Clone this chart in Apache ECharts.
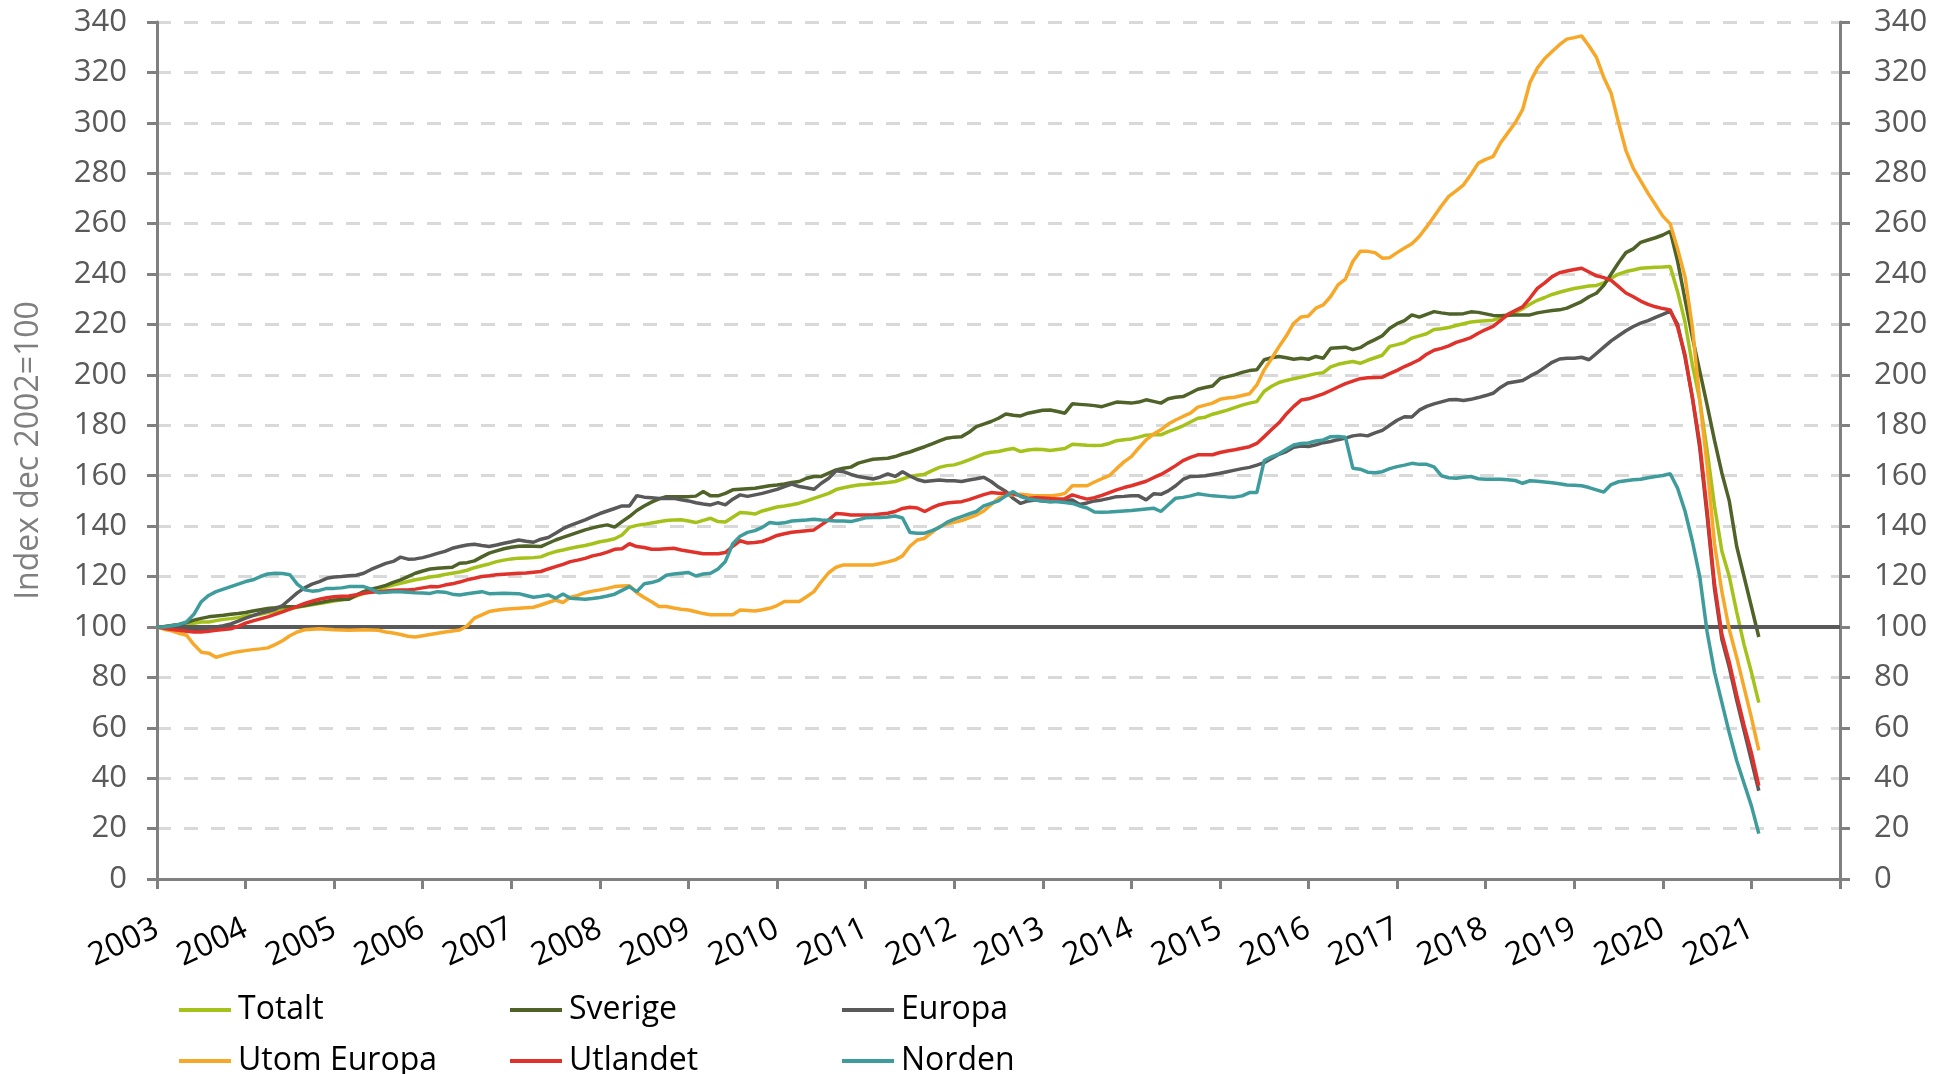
<!DOCTYPE html>
<html>
<head>
<meta charset="utf-8">
<script src="https://cdn.jsdelivr.net/npm/echarts@6/dist/echarts.min.js"></script>
<style>
  html, body, #main { width: 100%; height: 100%; margin: 0; background: #fff; }
</style>
</head>
<body>
<div id="main"></div>
<script>
// tick years (one tick every January, last tick has no label)
var years = [2003, 2004, 2005, 2006, 2007, 2008, 2009, 2010, 2011, 2012,
             2013, 2014, 2015, 2016, 2017, 2018, 2019, 2020, 2021, 2022];

// monthly index values, Jan 2003 .. Feb 2021 (dec 2002 = 100)
var totalt = [
  100, 100, 100.5, 101, 101, 101.5, 102, 102, 102.5, 103, 103.3, 103.7,
  104.3, 104.6, 105, 105.7, 106.2, 106.7, 107.2, 107.8, 108.3, 108.8, 109.3, 109.8,
  110.3, 110.8, 111.3, 112.2, 113.3, 114.3, 115, 115.8, 116.6, 117.3, 118, 118.7,
  119.2, 119.8, 120.2, 120.8, 121.3, 121.8, 122.5, 123.5, 124.3, 125, 125.9, 126.5,
  127, 127.3, 127.4, 127.5, 127.8, 129, 129.9, 130.5, 131.2, 131.8, 132.3, 133,
  133.8, 134.3, 135, 136.5, 139.5, 140.3, 140.7, 141.2, 141.7, 142.2, 142.4, 142.5,
  142, 141.4, 142.3, 143.1, 141.8, 141.6, 143.5, 145.4, 145.2, 144.8, 146, 146.8,
  147.6, 148, 148.5, 149.1, 150, 151, 152, 153, 154.5, 155.2, 155.8, 156.3,
  156.5, 156.8, 157, 157.3, 157.7, 158.7, 159.7, 160.2, 160.6, 162, 163.3, 164,
  164.3, 165.2, 166.3, 167.5, 168.7, 169.3, 169.6, 170.3, 170.8, 169.6, 170.2, 170.5,
  170.4, 170, 170.4, 170.8, 172.5, 172.3, 172.1, 172, 172.1, 172.8, 173.9, 174.3,
  174.6, 175.3, 176.1, 176.2, 176.2, 177.5, 178.6, 179.8, 181.3, 182.8, 183.2, 184.4,
  185.2, 186, 187, 188, 188.8, 189.4, 193.5, 195.5, 197, 197.8, 198.5, 199.1,
  199.8, 200.5, 200.9, 203.2, 204.2, 204.8, 205.3, 204.6, 205.8, 206.8, 207.8, 211.3,
  212, 212.8, 214.6, 215.5, 216.3, 218, 218.3, 218.8, 219.6, 220.3, 221, 221.3,
  221.5, 221.7, 222.5, 223.5, 224.8, 226.2, 228, 229.6, 230.7, 231.9, 232.8, 233.6,
  234.3, 234.8, 235.3, 235.5, 236.5, 238.3, 240, 241, 241.6, 242.3, 242.5, 242.7,
  242.8, 243, 233, 221, 204, 190, 170, 148, 130, 120, 106, 93,
  82, 70
];

var sverige = [
  100, 100.2, 100.6, 101, 101.7, 102.7, 103.4, 104, 104.3, 104.6, 105, 105.3,
  105.7, 106.3, 106.8, 107.3, 107.6, 108, 108, 108, 108.5, 109.1, 109.6, 110.2,
  110.7, 110.9, 111, 112.6, 114, 115, 115.7, 116.5, 117.7, 118.7, 120, 121.3,
  122.2, 123, 123.3, 123.5, 123.7, 125.3, 125.5, 126.2, 127.8, 129.3, 130.2, 131,
  131.6, 132, 132.1, 132, 131.9, 133.2, 134.5, 135.5, 136.5, 137.5, 138.5, 139.3,
  140, 140.5, 139.6, 141.8, 143.8, 146.2, 148, 149.5, 150.8, 151.7, 151.7, 151.7,
  151.7, 151.9, 153.7, 152, 152, 153, 154.4, 154.6, 154.8, 155, 155.5, 156,
  156.3, 156.7, 157.3, 157.7, 159, 159.7, 159.7, 161, 162.3, 163, 163.4, 165,
  165.8, 166.5, 166.7, 166.9, 167.6, 168.6, 169.4, 170.5, 171.5, 172.6, 173.8, 174.9,
  175.3, 175.5, 177.2, 179.5, 180.5, 181.5, 182.8, 184.5, 184, 183.7, 184.8, 185.4,
  186, 186.1, 185.5, 184.8, 188.5, 188.3, 188.1, 187.8, 187.4, 188.3, 189.2, 189,
  188.8, 189.2, 190.1, 189.5, 188.8, 190.5, 191.1, 191.4, 192.8, 194.3, 195, 195.6,
  198.5, 199.3, 200, 201, 201.7, 202, 206, 206.8, 207.3, 206.8, 206.2, 206.6,
  206.2, 207.3, 206.6, 210.6, 210.8, 211, 210, 210.8, 212.6, 214, 215.5, 218.5,
  220.3, 221.5, 223.8, 222.9, 224, 225.1, 224.6, 224.2, 224.2, 224.3, 225, 224.8,
  224.2, 223.6, 223.5, 223.7, 223.8, 223.8, 223.8, 224.6, 225.1, 225.5, 225.8, 226.5,
  227.8, 229.1, 231, 232.4, 235.5, 240, 244.5, 248.5, 250, 252.6, 253.5, 254.4,
  255.5, 257, 245, 230, 215, 201.5, 188, 174, 161, 150, 132, 120,
  108, 96
];

var europa = [
  100, 99.8, 99.5, 99.3, 99, 99, 99, 99.5, 100, 100.5, 101.2, 102.3,
  103.5, 104.5, 105.5, 106.2, 107, 108.5, 111, 113.5, 115.5, 117, 118, 119.3,
  119.8, 120, 120.3, 120.5, 121.3, 122.8, 124, 125.2, 126, 127.7, 126.9, 127,
  127.5, 128.3, 129.2, 130, 131.2, 131.9, 132.5, 132.8, 132.3, 131.9, 132.5, 133.2,
  133.8, 134.5, 134, 133.6, 134.8, 135.5, 137.2, 139, 140.3, 141.4, 142.5, 143.8,
  145, 146, 147, 148, 148, 152.1, 151.5, 151.3, 151, 151, 151, 150.5,
  150, 149.3, 148.8, 148.4, 149.3, 148.4, 150.7, 152.4, 151.8, 152.4, 153, 153.8,
  154.6, 155.7, 156.7, 155.7, 155.2, 154.6, 157, 159, 162, 161.6, 160.5, 159.7,
  159.2, 158.7, 159.5, 160.7, 159.7, 161.6, 159.9, 158.5, 157.7, 158, 158.3, 158,
  158, 157.7, 158.3, 158.8, 159.4, 157.7, 155.5, 153.7, 151, 149, 150, 150.4,
  150, 149.7, 150, 150.2, 150.4, 148.6, 149.2, 150, 150.4, 151, 151.7, 151.8,
  152, 152, 150.4, 152.8, 152.6, 154, 156, 158.5, 159.7, 159.8, 160, 160.5,
  161, 161.6, 162.2, 162.8, 163.3, 164.2, 165.2, 166.8, 168.5, 169.6, 171.3, 171.8,
  171.6, 172.3, 173.1, 173.6, 174.3, 174.9, 175.8, 176.2, 175.8, 177, 178, 180,
  182, 183.4, 183.3, 186, 187.5, 188.5, 189.3, 190.1, 190.2, 189.8, 190.3, 191,
  191.8, 192.7, 195, 196.8, 197.3, 197.8, 199.5, 201, 203, 205, 206.3, 206.6,
  206.6, 207, 206, 208.5, 211, 213.5, 215.5, 217.5, 219.2, 220.5, 221.5, 222.8,
  224, 225.3, 220, 207, 191, 171, 144, 115, 95, 84, 71, 59,
  47, 35
];

var utomEuropa = [
  100, 99, 98.5, 97.5, 96.7, 93, 90, 89.6, 88, 88.8, 89.6, 90.2,
  90.6, 91, 91.3, 91.7, 93, 94.5, 96.5, 98, 98.9, 99.1, 99.3, 99.1,
  98.9, 98.8, 98.7, 98.8, 98.9, 98.8, 98.7, 98, 97.6, 97, 96.3, 96,
  96.5, 97, 97.5, 98, 98.4, 98.8, 100.4, 103.5, 104.8, 106.1, 106.6, 107,
  107.2, 107.4, 107.6, 107.8, 108.7, 109.7, 110.7, 109.7, 111.8, 112.5, 113.6, 114.2,
  114.7, 115.3, 116, 116.2, 116.3, 113.6, 111.7, 110, 108.1, 108.1, 107.5, 107,
  106.7, 106, 105.3, 104.8, 104.8, 104.8, 104.8, 106.7, 106.5, 106.3, 106.8, 107.4,
  108.5, 110.1, 110.1, 110.1, 112, 114, 118, 121.5, 123.7, 124.6, 124.6, 124.6,
  124.6, 124.6, 125.2, 125.8, 126.6, 128.2, 132, 134.5, 135.2, 137.5, 139.8, 140.8,
  141.5, 142.2, 143.3, 144.4, 146, 148.5, 151, 152.4, 152.4, 152.6, 152.3, 152,
  152, 152, 152.3, 153, 156, 156, 156, 157.5, 158.8, 160, 162.8, 165.5,
  167.6, 171, 174.2, 176.5, 178.2, 180.5, 182.1, 183.5, 184.8, 187.2, 188, 188.8,
  190.3, 190.8, 191.1, 191.8, 192.5, 196, 202, 206.5, 211.2, 215.5, 220.5, 223,
  223.4, 226.5, 227.8, 231.1, 235.7, 238, 245, 249, 249, 248.5, 246.3, 246.5,
  248.5, 250.3, 252, 254.9, 258.7, 262.8, 267, 270.8, 273, 275.4, 279.5, 284,
  285.5, 286.6, 292, 296, 300, 305.2, 316, 321.7, 325.5, 328.3, 331, 333.2,
  333.8, 334.5, 330.5, 326, 318, 311.7, 300, 289, 281.9, 277, 272, 267.5,
  263, 259.9, 250, 239, 219, 190, 164, 133, 114, 99, 88, 76,
  64, 51
];

var utlandet = [
  100, 99.5, 99, 98.7, 98.3, 98, 98, 98.3, 98.7, 99, 99.3, 100.2,
  101.5, 102.4, 103.2, 104, 105, 106, 107.1, 108.2, 109.3, 110.2, 111, 111.6,
  112, 112.2, 112.3, 112.8, 113.4, 113.8, 114, 114.3, 114.6, 114.7, 114.7, 115,
  115.5, 116, 115.9, 116.6, 117.1, 117.8, 118.7, 119.3, 120, 120.3, 120.7, 120.9,
  121.1, 121.3, 121.4, 121.7, 122, 123, 123.9, 124.8, 125.9, 126.5, 127.2, 128.2,
  128.8, 129.7, 130.8, 131, 133, 131.9, 131.5, 130.8, 130.8, 131, 131.2, 130.5,
  130, 129.5, 129, 129, 129, 129.5, 132, 134.2, 133.3, 133.5, 133.9, 135,
  136.3, 137, 137.6, 137.9, 138.2, 138.5, 140.5, 142.5, 145, 144.8, 144.4, 144.4,
  144.4, 144.4, 144.8, 145.1, 145.8, 147, 147.5, 147.2, 145.8, 147.3, 148.5, 149.2,
  149.5, 149.7, 150.5, 151.5, 152.5, 153.3, 153, 153, 152.8, 152, 151, 151.3,
  151.2, 151, 150.8, 150.9, 152.4, 151.5, 150.7, 151.3, 152.2, 153.3, 154.4, 155.3,
  156, 156.9, 157.8, 159.2, 160.5, 162.2, 164, 166, 167.3, 168.3, 168.3, 168.3,
  169.2, 169.8, 170.3, 170.9, 171.5, 172.8, 175.5, 178.3, 181, 184.5, 187.5, 190,
  190.5, 191.5, 192.5, 193.8, 195.2, 196.5, 197.5, 198.5, 198.9, 199, 199.1, 200.5,
  201.8, 203.3, 204.6, 206, 208.2, 209.8, 210.5, 211.5, 212.9, 213.8, 214.8, 216.5,
  218, 219.2, 221.5, 224, 225.5, 227, 230.5, 234.3, 236.5, 239, 240.5, 241.2,
  241.8, 242.3, 240.8, 239.3, 238.6, 237.5, 235, 232.5, 231, 229.3, 228, 227,
  226.3, 225.8, 219, 208, 191, 173, 146, 117, 97, 86, 73, 61,
  50, 37
];

var norden = [
  100, 100, 100.5, 101, 102, 105, 110, 112.5, 114, 115, 116, 117,
  118, 118.7, 120, 121, 121.3, 121.2, 120.7, 117, 114.7, 114.2, 114.5, 115.3,
  115.3, 115.5, 116, 116, 116, 115, 113.6, 113.8, 114, 114, 113.8, 113.6,
  113.5, 113.3, 114, 113.8, 113, 112.7, 113.2, 113.6, 114, 113.2, 113.3, 113.4,
  113.3, 113.2, 112.5, 111.8, 112.2, 112.7, 111.4, 113.1, 111.4, 111.2, 111, 111.3,
  111.7, 112.3, 113, 114.5, 116, 114, 117.1, 117.6, 118.5, 120.5, 121, 121.3,
  121.6, 120.2, 121, 121.3, 123, 126, 133, 136, 137.5, 138.2, 139.5, 141.4,
  141, 141.3, 142, 142.2, 142.4, 142.7, 142.4, 142.2, 142, 142, 141.8, 142.5,
  143.3, 143.4, 143.4, 143.6, 144, 143.2, 137.5, 137.2, 137.2, 138.2, 139.5, 141.5,
  142.8, 143.8, 144.8, 145.8, 148, 149, 150, 152, 153.7, 151.7, 150.8, 150.4,
  150, 149.8, 149.7, 149.4, 149, 148, 147.2, 145.6, 145.5, 145.6, 145.8, 146,
  146.2, 146.5, 146.8, 147.1, 145.8, 148.5, 151.1, 151.4, 152, 152.8, 152.4, 152,
  151.8, 151.6, 151.5, 152, 153.3, 153.3, 166, 167.5, 168.7, 170.5, 172.2, 172.8,
  173, 173.8, 174.2, 175.5, 175.6, 175.3, 163, 162.6, 161.4, 161.2, 161.6, 162.8,
  163.6, 164.2, 164.9, 164.5, 164.5, 163.5, 160, 159.2, 159, 159.4, 159.7, 158.8,
  158.6, 158.6, 158.6, 158.4, 158.1, 157, 158, 157.8, 157.5, 157.2, 156.8, 156.3,
  156.2, 156, 155.3, 154.4, 153.5, 156.5, 157.6, 158, 158.4, 158.6, 159.2, 159.7,
  160.1, 160.8, 155, 146, 134, 120, 98, 82, 70, 58, 47, 38,
  29, 18
];

var seriesNames = ['Totalt', 'Sverige', 'Europa', 'Utom Europa', 'Utlandet', 'Norden'];
var seriesData = [totalt, sverige, europa, utomEuropa, utlandet, norden];
var seriesColors = ['#a5c21a', '#4f6228', '#595959', '#f7a829', '#e0322a', '#3f9c9c'];

// category axis: one slot per month from Jan 2003 to Jan 2022
var months = [];
for (var y = 0; y < years.length; y++) {
    for (var m = 0; m < 12; m++) {
        months.push(years[y] + '-' + (m + 1));
        if (y === years.length - 1) break;
    }
}

var labelFont = "'Open Sans', sans-serif";

var series = seriesNames.map(function (name, i) {
    return {
        name: name,
        type: 'line',
        data: seriesData[i],
        symbol: 'none',
        lineStyle: { color: seriesColors[i], width: 3.5 },
        itemStyle: { color: seriesColors[i] },
        z: 3 + i
    };
});
// the dark reference line at 100
series.push({
    type: 'line',
    data: [],
    z: 20,
    markLine: {
        silent: true,
        symbol: 'none',
        label: { show: false },
        lineStyle: { color: '#595959', width: 4, type: 'solid' },
        data: [{ yAxis: 100 }]
    }
});

// one legend per entry so the columns line up like the original
var legendPos = [
    [174, 989], [505, 989], [837, 989],
    [174, 1040], [505, 1040], [837, 1040]
];
var legends = seriesNames.map(function (name, i) {
    return {
        data: [name],
        left: legendPos[i][0],
        top: legendPos[i][1],
        icon: 'rect',
        itemWidth: 52,
        itemHeight: 4,
        itemGap: 0,
        textStyle: { fontFamily: labelFont, fontSize: 32, color: '#000', padding: [0, 0, 0, 2] }
    };
});

var chart = echarts.init(document.getElementById('main'));
chart.setOption({
    animation: false,
    backgroundColor: '#fff',
    legend: legends,
    grid: { left: 157, right: 96, top: 22, bottom: 195, containLabel: false },
    xAxis: {
        type: 'category',
        data: months,
        boundaryGap: false,
        axisLine: { lineStyle: { color: '#808080', width: 3 } },
        axisTick: {
            show: true,
            length: 10,
            interval: function (idx) { return idx % 12 === 0; },
            lineStyle: { color: '#808080', width: 3 }
        },
        axisLabel: {
            interval: function (idx) { return idx % 12 === 0; },
            rotate: 25,
            margin: 48,
            fontFamily: labelFont,
            fontSize: 32,
            color: '#000',
            formatter: function (v) {
                var yr = v.slice(0, 4);
                return yr === '2022' ? '' : yr;
            }
        },
        splitLine: { show: false }
    },
    yAxis: [{
        type: 'value',
        min: 0,
        max: 340,
        interval: 20,
        name: 'Index dec 2002=100',
        nameLocation: 'middle',
        nameGap: 112,
        nameTextStyle: { fontFamily: "'Open Sans', sans-serif", fontSize: 32, color: '#7f7f7f' },
        axisLine: { show: true, lineStyle: { color: '#808080', width: 3 } },
        axisTick: { show: true, length: 10, lineStyle: { color: '#808080', width: 3 } },
        axisLabel: { fontFamily: labelFont, fontSize: 31, color: '#595959', margin: 30 },
        splitLine: { show: true, lineStyle: { color: '#d9d9d9', width: 3, type: [14, 13] } }
    }, {
        type: 'value',
        min: 0,
        max: 340,
        interval: 20,
        position: 'right',
        axisLine: { show: true, lineStyle: { color: '#808080', width: 3 } },
        axisTick: { show: true, length: 10, lineStyle: { color: '#808080', width: 3 } },
        axisLabel: { fontFamily: labelFont, fontSize: 31, color: '#595959', margin: 34 },
        splitLine: { show: false }
    }],
    series: series
});
</script>
</body>
</html>
